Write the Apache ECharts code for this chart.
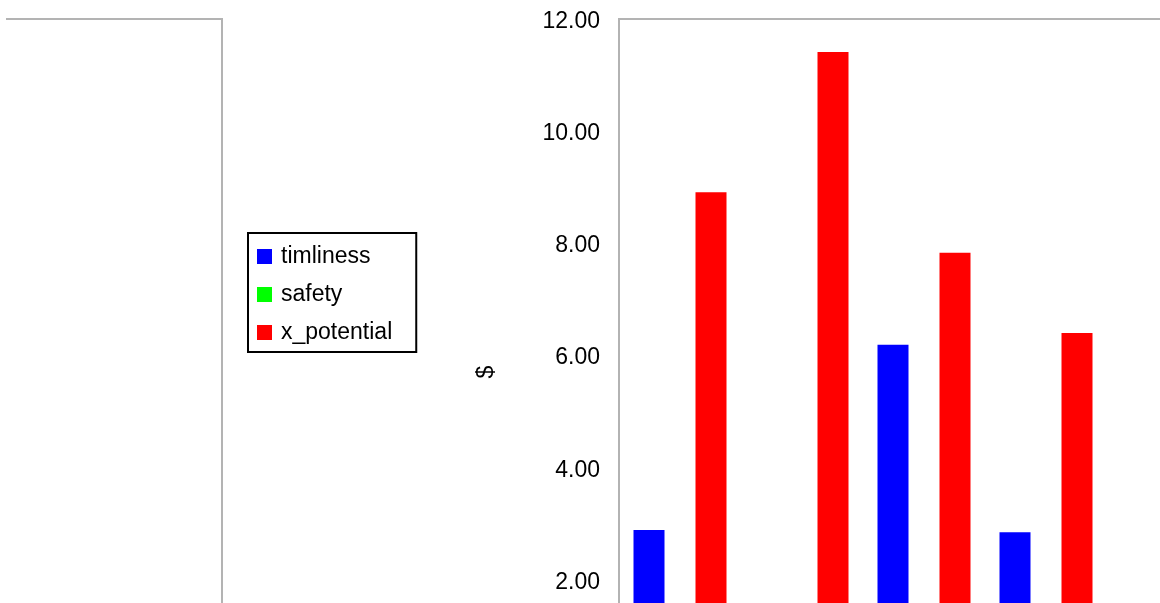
<!DOCTYPE html>
<html>
<head>
<meta charset="utf-8">
<style>
  html, body { margin: 0; padding: 0; background: #fff; }
  #chart { width: 1160px; height: 603px; }
</style>
<script src="https://cdn.jsdelivr.net/npm/echarts@6/dist/echarts.min.js"></script>
</head>
<body>
<div id="chart"></div>
<script>
// Categories (labels fall below the visible area of the reference)
const categories = ['1', '2', '3', '4', '5'];
// Series values (last category not visible)
const timliness   = [2.89, 0, 6.19, 2.85, null];
const safety      = [0, 0, 0, 0, null];
const x_potential = [8.91, 11.41, 7.83, 6.40, null];
// Y-axis ticks
const yMin = 0, yMax = 12, yStep = 2;

const FONT = "'Liberation Sans', Arial, sans-serif";
const chart = echarts.init(document.getElementById('chart'), null, { renderer: 'canvas' });

chart.setOption({
  animation: false,
  backgroundColor: '#ffffff',
  textStyle: { fontFamily: FONT },
  grid: {
    show: true,
    left: 619, top: 19, width: 610, height: 673,
    outerBoundsMode: 'none',
    borderColor: '#b3b3b3', borderWidth: 2,
    backgroundColor: 'transparent',
    containLabel: false
  },
  legend: {
    orient: 'vertical',
    left: 248, top: 233,
    padding: [12, 24, 8, 9],
    itemGap: 15,
    itemWidth: 15, itemHeight: 15,
    icon: 'rect',
    borderColor: '#000', borderWidth: 2,
    textStyle: { fontSize: 23, color: '#000', fontFamily: FONT, padding: [2, 0, 0, 4] },
    data: ['timliness', 'safety', 'x_potential']
  },
  xAxis: {
    type: 'category',
    data: categories,
    axisLine: { show: false },
    axisTick: { show: false },
    axisLabel: { show: false },
    splitLine: { show: false }
  },
  yAxis: {
    type: 'value',
    min: yMin, max: yMax, interval: yStep,
    axisLine: { show: false },
    axisTick: { show: false },
    splitLine: { show: false },
    axisLabel: {
      margin: 19,
      color: '#000',
      formatter: v => '{t|' + v.toFixed(2) + '}',
      rich: {
        t: { fontSize: 23, color: '#000', fontFamily: FONT, padding: [5, 0, 0, 0] }
      }
    }
  },
  graphic: [
    {
      type: 'polyline',
      shape: { points: [[6, 19], [222, 19], [222, 700]] },
      style: { stroke: '#b3b3b3', lineWidth: 2, fill: null },
      silent: true
    },
    {
      type: 'text',
      x: 487, y: 372,
      rotation: Math.PI / 2,
      style: { text: '$', fill: '#000', font: '23px ' + FONT, align: 'center', verticalAlign: 'middle' },
      silent: true
    }
  ],
  series: [
    { name: 'timliness', type: 'bar', data: timliness, barWidth: 31, barGap: '0%', itemStyle: { color: '#0000ff' } },
    { name: 'safety', type: 'bar', data: safety, barWidth: 31, barGap: '0%', itemStyle: { color: '#00ff00' } },
    { name: 'x_potential', type: 'bar', data: x_potential, barWidth: 31, barGap: '0%', itemStyle: { color: '#ff0000' } }
  ]
});
</script>
</body>
</html>
